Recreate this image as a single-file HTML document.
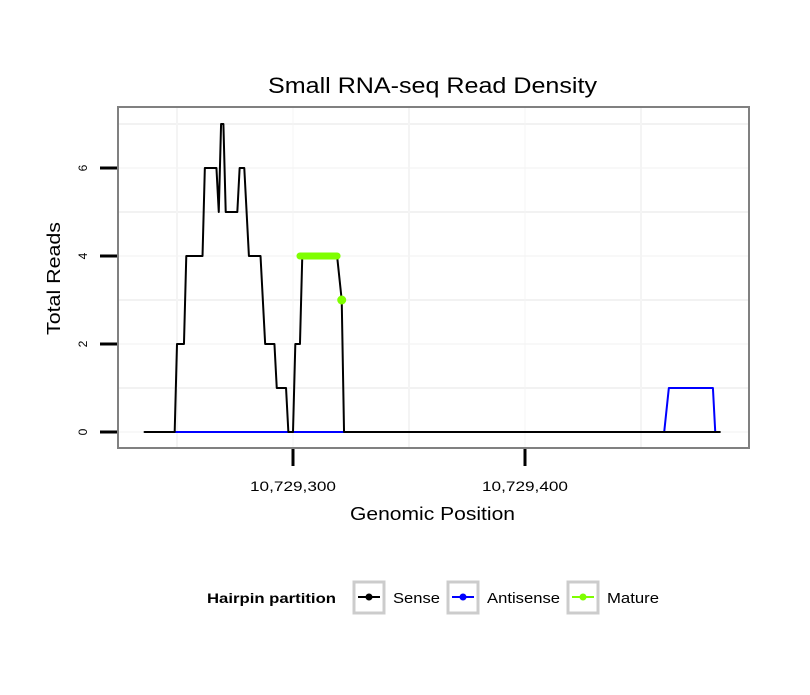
<!DOCTYPE html>
<html><head><meta charset="utf-8"><style>
body{margin:0;background:#fff;font-family:"Liberation Sans",sans-serif}
</style></head><body>
<svg id="c" width="810" height="690" xmlns="http://www.w3.org/2000/svg" font-family="Liberation Sans, sans-serif">
<text x="268" y="93" font-size="22" textLength="329" lengthAdjust="spacingAndGlyphs">Small RNA-seq Read Density</text>
<g id="grid"></g>
<g id="series"></g>
<rect x="118" y="107" width="631" height="341" fill="none" stroke="#808080" stroke-width="2"/>
<g id="axes"></g>
<text x="350" y="520" font-size="18" textLength="165" lengthAdjust="spacingAndGlyphs">Genomic Position</text>
<text transform="translate(60,335) rotate(-90)" font-size="18" textLength="113" lengthAdjust="spacingAndGlyphs">Total Reads</text>
<g>
<text x="207" y="603" font-size="14" font-weight="bold" textLength="129" lengthAdjust="spacingAndGlyphs">Hairpin partition</text>
<g><rect x="354" y="582" width="30" height="31" fill="none" stroke="#ccc" stroke-width="3"/><line x1="358" y1="597" x2="380" y2="597" stroke="#000" stroke-width="2"/><circle cx="369" cy="597" r="3.5" fill="#000"/><text x="393" y="603" font-size="15" textLength="47" lengthAdjust="spacingAndGlyphs">Sense</text></g>
<g><rect x="448" y="582" width="30" height="31" fill="none" stroke="#ccc" stroke-width="3"/><line x1="452" y1="597" x2="474" y2="597" stroke="#00f" stroke-width="2"/><circle cx="463" cy="597" r="3.5" fill="#00f"/><text x="487" y="603" font-size="15" textLength="73" lengthAdjust="spacingAndGlyphs">Antisense</text></g>
<g><rect x="568" y="582" width="30" height="31" fill="none" stroke="#ccc" stroke-width="3"/><line x1="572" y1="597" x2="594" y2="597" stroke="#7fff00" stroke-width="2"/><circle cx="583" cy="597" r="3.5" fill="#7fff00"/><text x="607" y="603" font-size="15" textLength="52" lengthAdjust="spacingAndGlyphs">Mature</text></g>
</g>
</svg>
<script>
const sensePos=[10729236,10729249,10729250,10729253,10729254,10729261,10729262,10729267,10729268,10729269,10729270,10729271,10729276,10729277,10729279,10729281,10729286,10729288,10729292,10729293,10729297,10729298,10729300,10729301,10729303,10729304,10729319,10729321,10729322,10729484];
const senseVal=[0,0,2,2,4,4,6,6,5,7,7,5,5,6,6,4,4,2,2,1,1,0,0,2,2,4,4,3,0,0];
const antiPos=[10729249,10729460,10729462,10729481,10729482];
const antiVal=[0,0,1,1,0];
const maturePos=[10729303,10729319];
const matureVal=[4,4];
const maturePointPos=[10729321];
const maturePointVal=[3];
const xTicks=[10729300,10729400];
const xTickLabels=["10,729,300","10,729,400"];
const yTicks=[0,2,4,6];
const NS="http://www.w3.org/2000/svg";
const X=v=>293+(v-10729300)*2.32;
const Y=v=>432-v*44;
function mk(tag,attrs,parent){const e=document.createElementNS(NS,tag);for(const k in attrs)e.setAttribute(k,attrs[k]);document.getElementById(parent).appendChild(e);return e;}
for(let v=0;v<=7;v++){const g=mk('line',{x1:119,x2:748,y1:Y(v),y2:Y(v),stroke:'#f2f2f2','stroke-width':v%2?2:1},'grid');

}
for(let v=10729250;v<=10729500;v+=50){const px=X(v);if(px<119||px>748)continue;const g=mk('line',{x1:px,x2:px,y1:108,y2:447,stroke:'#f4f4f4','stroke-width':(v%100)?2:1},'grid');

}
function path(xs,ys,color,w,name){const d=xs.map((x,i)=>(i?'L':'M')+X(x)+','+Y(ys[i])).join(' ');const p=mk('path',{d:d,fill:'none',stroke:color,'stroke-width':w,'stroke-linejoin':'round','stroke-linecap':'round'},'series');

}
path(antiPos,antiVal,'#0000ff',2,'antisense-line');
path(sensePos,senseVal,'#000',2,'sense-line');
path(maturePos,matureVal,'#7fff00',7,'mature-line');
maturePointPos.forEach((p,i)=>{const c=mk('circle',{cx:X(p),cy:Y(maturePointVal[i]),r:4.5,fill:'#7fff00'},'series');

});
yTicks.forEach(v=>{const t=mk('line',{x1:100,x2:117,y1:Y(v),y2:Y(v),stroke:'#000','stroke-width':3},'axes');


const l=mk('text',{transform:`translate(87,${Y(v)}) rotate(-90)`,'font-size':12,'text-anchor':'middle'},'axes');l.textContent=v;

});
xTicks.forEach((v,i)=>{const t=mk('line',{x1:X(v),x2:X(v),y1:449,y2:466,stroke:'#000','stroke-width':3},'axes');


const l=mk('text',{x:X(v)-43,y:491,'font-size':14,textLength:86,lengthAdjust:'spacingAndGlyphs'},'axes');l.textContent=xTickLabels[i];

});
</script>
</body></html>
